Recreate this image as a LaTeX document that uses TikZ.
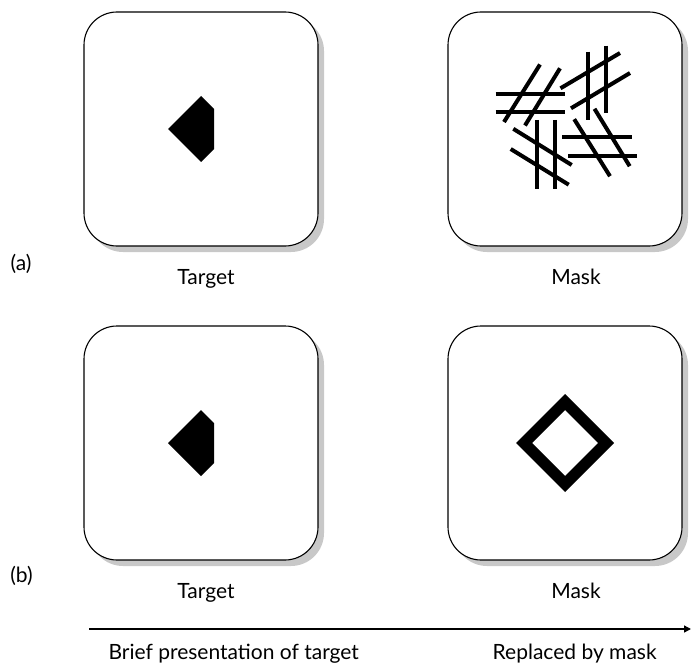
\documentclass[tikz,border=0pt]{standalone}
\usepackage{fontspec}
\setmainfont{Lato}
\usetikzlibrary{arrows.meta,shadows}
\definecolor{shadowgray}{RGB}{200,200,200}
\begin{document}
\begin{tikzpicture}[x=1pt,y=-1pt,
  panel/.style={draw=black, line width=1.1pt, fill=white, rounded corners=33pt,
    minimum width=234pt, minimum height=234pt, inner sep=0pt,
    drop shadow={shadow xshift=6pt, shadow yshift=-6pt, fill=shadowgray, opacity=1}},
  lab/.style={font=\fontsize{21}{24}\selectfont, inner sep=0pt, anchor=base},
  hashline/.style={line width=4pt, line cap=butt},
  every node/.style={text=black}]
\useasboundingbox (0,0) rectangle (691,666);
% panels
\node[panel] (p1) at (201,129) {};
\node[panel] (p2) at (565,129) {};
\node[panel] (p3) at (201,443) {};
\node[panel] (p4) at (565,443) {};
% target shapes (clipped diamonds)
\fill (201,96) -- (214,109) -- (214,149) -- (201,162) -- (168,129) -- cycle;
\fill (201,410) -- (214,423) -- (214,463) -- (201,476) -- (168,443) -- cycle;
% mask (a): hash marks
\begin{scope}
% group A
\draw[hashline] (495.7,94) -- (565,94);
\draw[hashline] (495.7,112.5) -- (565,112.5);
\draw[hashline] (540,64.5) -- (504,122);
\draw[hashline] (560,68.3) -- (525,125.5);
% group B
\draw[hashline] (588,51.7) -- (588,120);
\draw[hashline] (606,45.7) -- (606,113.3);
\draw[hashline] (560.5,88.3) -- (620,53);
\draw[hashline] (571,108.3) -- (630,73);
% group C
\draw[hashline] (536.7,120) -- (536.7,189);
\draw[hashline] (555,120) -- (555,189);
\draw[hashline] (513.3,128.8) -- (571.7,165);
\draw[hashline] (510.7,149) -- (568.7,184.7);
% group D
\draw[hashline] (562.3,137.3) -- (631.7,137.3);
\draw[hashline] (568.3,155.7) -- (637.3,155.7);
\draw[hashline] (574.2,119.2) -- (610,176.2);
\draw[hashline] (594.5,108.8) -- (629.7,166.2);
\end{scope}
% mask (b): diamond outline
\fill[even odd rule] (565,394) -- (614,443) -- (565,492) -- (516,443) -- cycle
  (565,410) -- (598,443) -- (565,476) -- (532,443) -- cycle;
% labels
\node[lab] (t1) at (206,284.5) {Target};
\node[lab] (m1) at (576,284.5) {Mask};
\node[lab] (t2) at (206,598.5) {Target};
\node[lab] (m2) at (576,598.5) {Mask};
\node[font=\fontsize{21}{24}\selectfont, inner sep=0pt] (la) at (21,264) {(a)};
\node[font=\fontsize{21}{24}\selectfont, inner sep=0pt] (lb) at (21.5,576) {(b)};
% time axis
\coordinate (as) at (89,629);
\coordinate (ae) at (691,629);
\draw[line width=1.4pt, -{Triangle[length=7pt,width=7pt]}] (as) -- (ae);
\node[lab, anchor=base west] (brief) at (108.3,659.3) {Brief presentation of target};
\node[lab] (repl) at (574.7,659.3) {Replaced by mask};
\end{tikzpicture}
\end{document}
